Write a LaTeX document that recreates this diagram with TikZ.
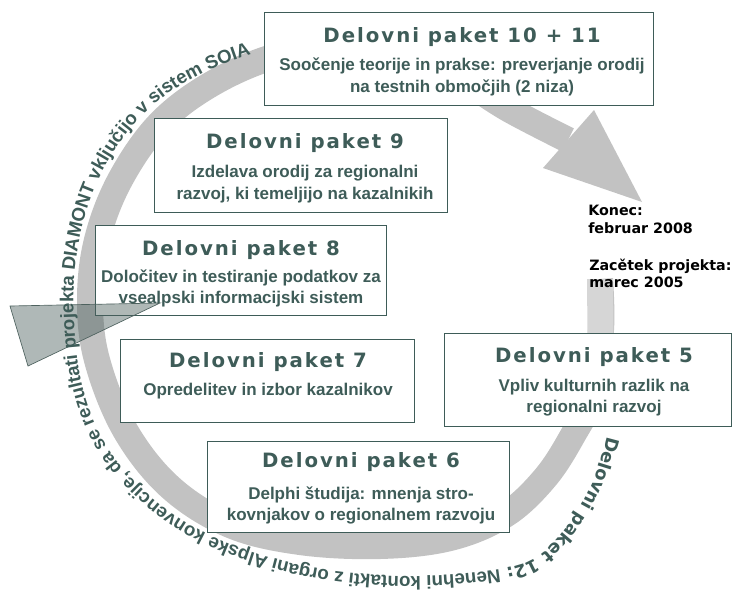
\documentclass[tikz,border=0pt]{standalone}
\usepackage{fontspec}
\setmainfont{Liberation Sans}
\newfontfamily\wpfont[LetterSpace=10]{DejaVu Sans}
\newfontfamily\datefont{DejaVu Sans}
\usepackage{tikz}
\usetikzlibrary{decorations.text}
\definecolor{wpteal}{RGB}{62,92,88}
\definecolor{ringgrey}{RGB}{194,194,194}
\definecolor{ringlight}{RGB}{214,214,214}
\definecolor{wedge}{RGB}{78,98,95}

\begin{document}
\begin{tikzpicture}[x=0.75pt,y=0.75pt,yscale=-1,xscale=1,
    wpbox/.style={draw=wpteal, line width=0.75pt, fill=white},
    wptitle/.style={anchor=base, inner sep=0pt, text=wpteal, font=\wpfont\bfseries\fontsize{14.8}{17}\selectfont},
    wptext/.style={anchor=base, inner sep=0pt, text=wpteal, font=\bfseries\fontsize{12.75}{15}\selectfont},
    datetext/.style={anchor=base west, inner sep=0pt, font=\datefont\bfseries\fontsize{10.7}{12}\selectfont}]
    \useasboundingbox (0,0) rectangle (732,594);

    %Curve Band: cycle of the project
    \draw [ringgrey, line width=19.5pt] plot [smooth, tension=0.6] coordinates {(600,279) (601,330) (592,395) (573,435) (545,478) (505,515) (450,538) (380,546) (300,542) (230,525) (170,487) (125,430) (97,360) (90,300) (97,240) (120,180) (160,123) (215,82) (280,55) (346,48) (420,60) (465,82) (510,110) (568,140)};
    %Shape: Triangle (arrow head)
    \fill [ringgrey] (543,168) -- (594,110) -- (642,202) -- cycle;
    %Straight Lines: start of the band
    \draw [ringlight, line width=19.5pt] (600,279) -- (600.5,334);

    %Shape: Rectangle [wp 10+11]
    \draw [wpbox] (264,12) rectangle (653,105);
    %Shape: Rectangle [wp 9]
    \draw [wpbox] (154,118) rectangle (447,212);
    %Shape: Rectangle [wp 8]
    \draw [wpbox] (95,225) rectangle (386,315);
    %Shape: Rectangle [wp 7]
    \draw [wpbox] (120,339) rectangle (414,422);
    %Shape: Rectangle [wp 6]
    \draw [wpbox] (207,441) rectangle (509,532);
    %Shape: Rectangle [wp 5]
    \draw [wpbox] (444,333) rectangle (731,426);

    %Shape: Triangle (dark wedge)
    \draw [draw=wedge, line width=0.5pt, fill=wedge, fill opacity=0.45] (10,306) -- (160,303) -- (28,366) -- cycle;

    % Text Node
    \node [wptitle] (wp10) at (462,42) {Delovni paket 10 + 11};
    % Text Node
    \node [wptext] (wp10a) at (462,70) {Soočenje teorije in prakse: preverjanje orodij};
    % Text Node
    \node [wptext] (wp10b) at (462,92) {na testnih območjih (2 niza)};
    % Text Node
    \node [wptitle] (wp9) at (305,148) {Delovni paket 9};
    % Text Node
    \node [wptext] (wp9a) at (305,177) {Izdelava orodij za regionalni};
    % Text Node
    \node [wptext] (wp9b) at (305,199) {razvoj, ki temeljijo na kazalnikih};
    % Text Node
    \node [wptitle] (wp8) at (241,255) {Delovni paket 8};
    % Text Node
    \node [wptext] (wp8a) at (241,282) {Določitev in testiranje podatkov za};
    % Text Node
    \node [wptext] (wp8b) at (241,303) {vsealpski informacijski sistem};
    % Text Node
    \node [wptitle] (wp7) at (268,367) {Delovni paket 7};
    % Text Node
    \node [wptext] (wp7a) at (268,395) {Opredelitev in izbor kazalnikov};
    % Text Node
    \node [wptitle] (wp6) at (361,467) {Delovni paket 6};
    % Text Node
    \node [wptext] (wp6a) at (361,499) {Delphi študija: mnenja stro-};
    % Text Node
    \node [wptext] (wp6b) at (361,520) {kovnjakov o regionalnem razvoju};
    % Text Node
    \node [wptitle] (wp5) at (594,362) {Delovni paket 5};
    % Text Node
    \node [wptext] (wp5a) at (594,391) {Vpliv kulturnih razlik na};
    % Text Node
    \node [wptext] (wp5b) at (594,412) {regionalni razvoj};

    % Text Node
    \node [datetext] (konec) at (588,215) {Konec:};
    % Text Node
    \node [datetext] (konecdate) at (588,233) {februar 2008};
    % Text Node
    \node [datetext] (zacetek) at (589,270) {Zacětek projekta:};
    % Text Node
    \node [datetext] (zacetekdate) at (589,287) {marec 2005};

    %Curve Text: work package 12
    \path [decorate, decoration={text along path, text color=wpteal,
        text={|\datefont\bfseries\fontsize{13.3}{15}\selectfont|Delovni paket 12: |\bfseries\fontsize{14.05}{16}\selectfont|Nenehni kontakti z organi Alpske konvencije, da se rezultati projekta DIAMONT vključijo v sistem SOIA}}]
        plot [smooth, tension=0.6] coordinates {(607,436) (592,484) (565,530) (530,561) (480,572) (420,576) (360,574) (300,565) (240,548) (185,522) (138,485) (103,440) (82,385) (74,320) (76,260) (90,200) (115,150) (150,108) (195,77) (250,55) (300,45) (340,40)};

\end{tikzpicture}
\end{document}
